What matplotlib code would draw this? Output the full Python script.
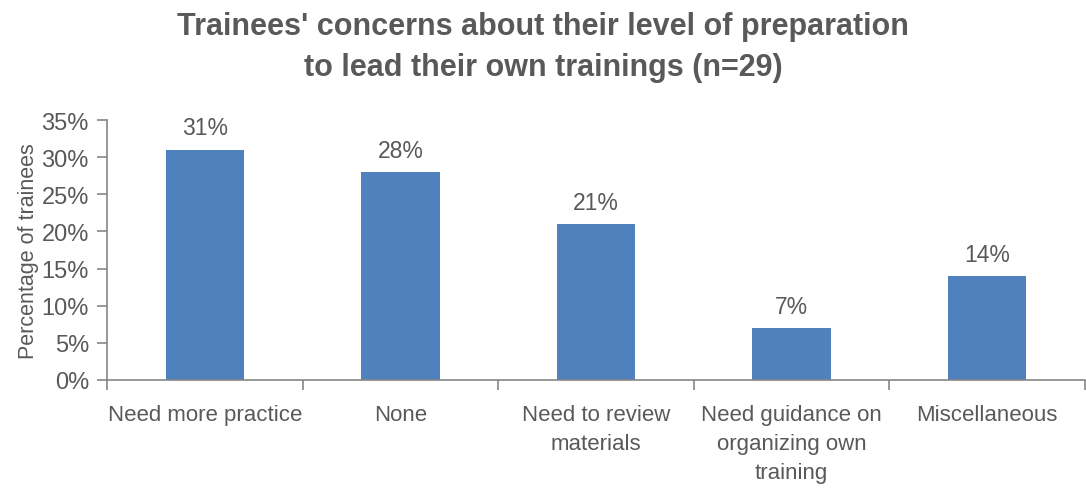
import matplotlib.pyplot as plt
from matplotlib.ticker import PercentFormatter

plt.rcParams['font.family'] = ['Liberation Sans Narrow', 'Liberation Sans', 'DejaVu Sans']

categories = ['Need more practice', 'None', 'Need to review\nmaterials',
              'Need guidance on\norganizing own\ntraining', 'Miscellaneous']
values = [31, 28, 21, 7, 14]
labels = ['31%', '28%', '21%', '7%', '14%']

gray = '#595959'
axis_gray = '#868686'

fig = plt.figure(figsize=(10.86, 4.89), dpi=100)
ax = fig.add_axes([107 / 1086, 108 / 489, 978 / 1086, 260 / 489])

x = range(len(categories))
ax.bar(x, values, width=0.4, color='#4F81BD')
for xi, v, lab in zip(x, values, labels):
    ax.text(xi, v + 1.4, lab, ha='center', va='bottom', fontsize=16.5, color=gray)

ax.set_xlim(-0.5, len(categories) - 0.5)
ax.set_ylim(0, 35)
ax.set_yticks(range(0, 36, 5))
ax.yaxis.set_major_formatter(PercentFormatter(decimals=0))
ax.set_xticks(x)
ax.set_xticklabels(categories, linespacing=1.5)
ax.set_xticks([i - 0.5 for i in range(len(categories) + 1)], minor=True)
ax.tick_params(axis='x', which='major', length=0, pad=17, labelsize=16, labelcolor=gray)
ax.tick_params(axis='x', which='minor', length=7, color=axis_gray, width=1.2)
ax.tick_params(axis='y', length=7, color=axis_gray, width=1.2, labelsize=17, labelcolor=gray, pad=6)

for s in ['top', 'right']:
    ax.spines[s].set_visible(False)
for s in ['left', 'bottom']:
    ax.spines[s].set_color(axis_gray)
    ax.spines[s].set_linewidth(1.2)

ax.set_ylabel('Percentage of trainees', fontsize=15.5, color=gray, labelpad=2)
fig.text(0.5, 0.975, "Trainees' concerns about their level of preparation\nto lead their own trainings (n=29)",
         ha='center', va='top', fontsize=22, fontweight='bold', color=gray, linespacing=1.45,
         family=['Liberation Sans', 'DejaVu Sans'])

fig.savefig('out.png', dpi=100)
